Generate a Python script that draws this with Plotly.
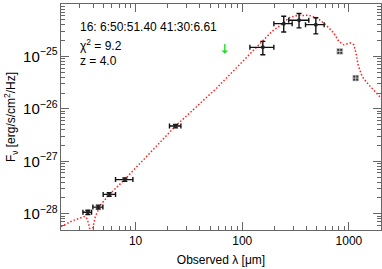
import numpy as np
import plotly.graph_objects as go

# --- photometry (observed wavelength in micron, F_nu in erg/s/cm^2/Hz)
wave = [3.57, 4.47, 5.66, 7.94, 23.7, 156, 245, 341, 490]
wave_lo = [3.21, 3.98, 4.97, 6.49, 20.8, 118, 198, 273, 392]
wave_hi = [3.87, 4.94, 6.49, 9.44, 26.6, 198, 294, 421, 586]
flux = [1.07e-28, 1.34e-28, 2.34e-28, 4.48e-28, 4.70e-27, 1.49e-25, 4.22e-25, 4.90e-25, 4.04e-25]
flux_lo = [0.97e-28, 1.23e-28, 2.16e-28, 4.15e-28, 4.35e-27, 1.08e-25, 2.93e-25, 3.50e-25, 2.69e-25]
flux_hi = [1.17e-28, 1.46e-28, 2.52e-28, 4.82e-28, 5.05e-27, 1.94e-25, 5.83e-25, 6.57e-25, 5.45e-25]

# mm points (square markers)
mm_wave = [822, 1160]
mm_flux = [1.25e-25, 3.86e-26]

# 70 micron upper limit (arrow from top to head)
ul_wave = 68.7
ul_top = 1.85e-25
ul_head = 1.12e-25

# --- model SED
model_wave = [2.0, 2.58, 3.35, 3.50, 3.65, 3.77, 3.89, 4.18, 4.66, 5.58, 7.94, 23.7, 55.3, 92.9,
              165, 190.6, 245, 273, 327, 421, 504, 604, 722, 804, 895, 1035, 1111, 1167,
              1219, 1330, 1537, 1775, 1950]
model_flux = [5.7e-29, 7.4e-29, 8.9e-29, 8.1e-29, 6.2e-29, 4.4e-29, 4.4e-29, 8.6e-29, 1.44e-28,
              2.24e-28, 4.54e-28, 4.70e-27, 2.30e-26, 6.78e-26, 2.25e-25, 3.01e-25, 4.36e-25,
              5.45e-25, 6.02e-25, 6.10e-25, 5.45e-25, 4.04e-25, 2.81e-25, 1.94e-25, 1.67e-25,
              1.81e-25, 1.67e-25, 1.16e-25, 6.93e-26, 4.14e-26, 2.87e-26, 2.14e-26, 1.71e-26]

x_range = [2.0, 2000.0]
y_range = [4.9e-29, 1.0e-24]

label_src = "16: 6:50:51.40 41:30:6.61"
label_chi = "χ<sup>2</sup> = 9.2"
label_z = "z = 4.0"

FONT = "Liberation Sans, Arial, Helvetica, sans-serif"
AX = "#666666"

fig = go.Figure()

fig.add_trace(go.Scatter(
    x=model_wave, y=model_flux, mode="lines",
    line=dict(color="#ff2020", width=1.5, dash="1.5px,2px"),
    hoverinfo="skip", showlegend=False))

w = np.array(wave); f = np.array(flux)
fig.add_trace(go.Scatter(
    x=wave, y=flux, mode="markers",
    marker=dict(color="#222222", size=4, symbol="circle"),
    error_x=dict(type="data", symmetric=False,
                 array=list(np.array(wave_hi) - w), arrayminus=list(w - np.array(wave_lo)),
                 color="#111111", thickness=1.4, width=2.5),
    error_y=dict(type="data", symmetric=False,
                 array=list(np.array(flux_hi) - f), arrayminus=list(f - np.array(flux_lo)),
                 color="#111111", thickness=1.4, width=2.5),
    showlegend=False))

fig.add_trace(go.Scatter(
    x=mm_wave, y=mm_flux, mode="markers",
    marker=dict(color="#333333", size=6, symbol="square-cross",
                line=dict(color="#dddddd", width=0.8)),
    showlegend=False))

fig.add_annotation(x=np.log10(ul_wave), y=np.log10(ul_head), ax=np.log10(ul_wave), ay=np.log10(ul_top),
                   xref="x", yref="y", axref="x", ayref="y", text="", showarrow=True,
                   arrowhead=1, arrowsize=0.8, arrowwidth=1.4, arrowcolor="#22dd22")

for txt, yp in [(label_src, 0.900), (label_chi, 0.818), (label_z, 0.750)]:
    fig.add_annotation(x=0.053, y=yp, xref="paper", yref="paper", text=txt, showarrow=False,
                       xanchor="left", yanchor="middle", font=dict(size=12, color="#000000", family=FONT))

axis_common = dict(type="log", showgrid=False, zeroline=False, showline=True, linecolor=AX, linewidth=1,
                   mirror="allticks", ticks="inside", ticklen=8, tickcolor=AX, tickwidth=1,
                   automargin=False, dtick=1,
                   tickfont=dict(size=12, color="#000000", family=FONT),
                   minor=dict(ticks="inside", ticklen=4, tickcolor=AX, tickwidth=1, showgrid=False))

fig.update_xaxes(range=[np.log10(x_range[0]), np.log10(x_range[1])],
                 exponentformat="none",
                 title=dict(text="Observed λ [μm]", font=dict(size=12, family=FONT, color="#000000"), standoff=8),
                 **axis_common)
fig.update_yaxes(range=[np.log10(y_range[0]), np.log10(y_range[1])],
                 exponentformat="power",
                 title=dict(text="F<sub>ν</sub> [erg/s/cm<sup>2</sup>/Hz]", font=dict(size=12, family=FONT, color="#000000"), standoff=4),
                 **axis_common)

fig.update_layout(width=382, height=269, margin=dict(l=61, r=1, t=4, b=39, autoexpand=False),
                  paper_bgcolor="white", plot_bgcolor="white", font=dict(family=FONT))

fig.write_html("out.html", config={"displayModeBar": False, "staticPlot": True},
               post_script="document.body.style.margin='0';document.body.style.overflow='hidden';")
